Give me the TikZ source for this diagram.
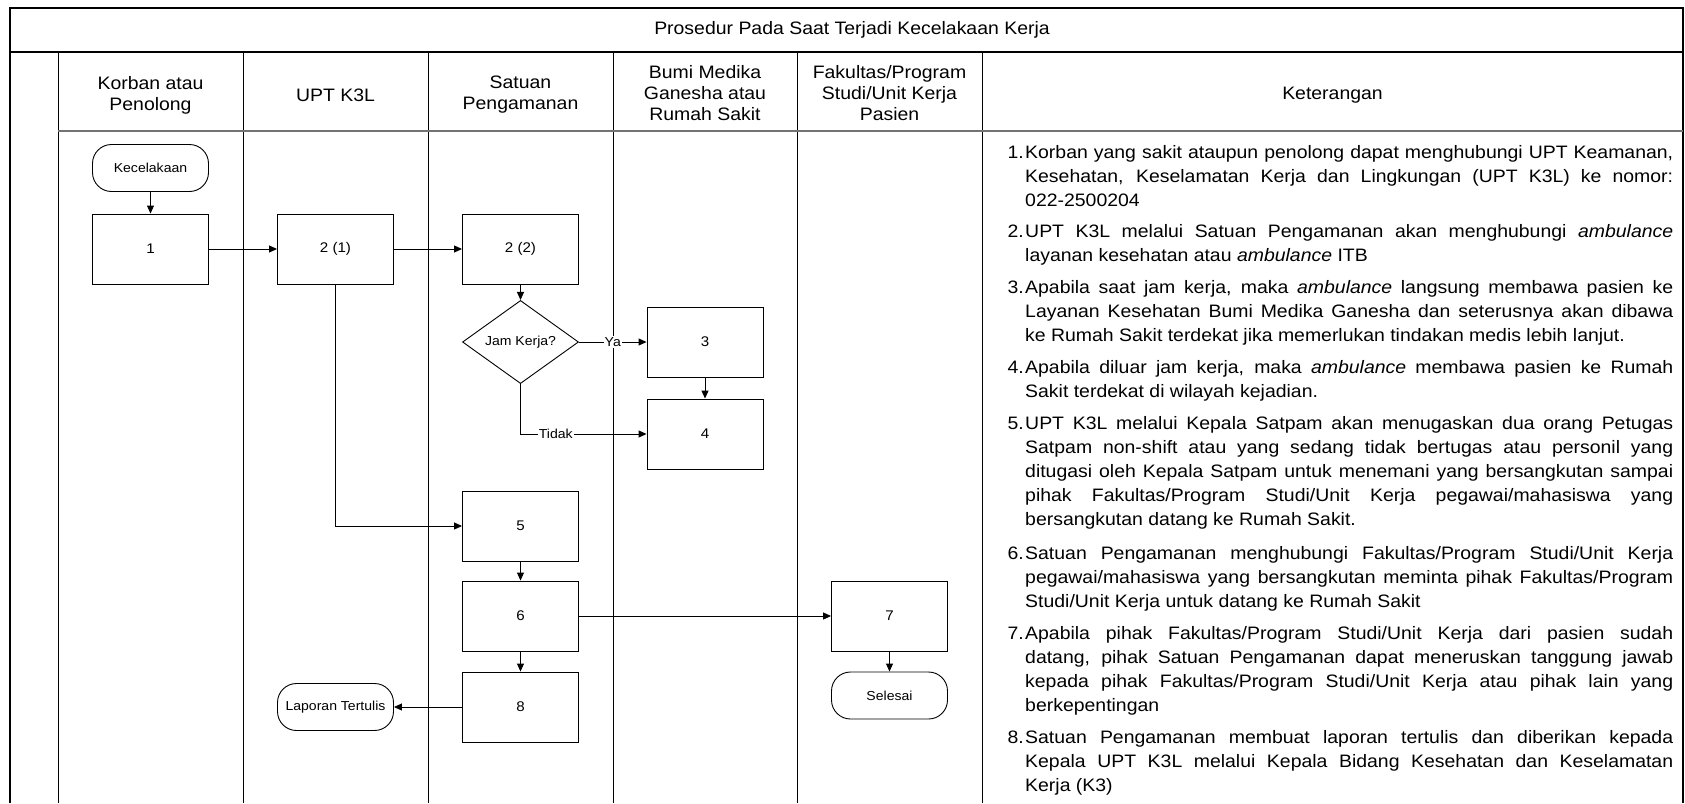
\documentclass[tikz,border=0pt]{standalone}
\usepackage{fontspec}
\setmainfont{Liberation Sans}[FakeStretch=1.08]
\usetikzlibrary{arrows.meta,shapes.geometric}
\newcommand\jl[1]{\hbox to 648pt{#1}}
\newcommand\lastl[1]{\hbox{#1}}
\newcommand\ketitem[3]{%
  \node[ket, anchor=base east] (n#1) at (1024,#2) {#1.};
  \node[ket, anchor=base west] (k#1) at (1025,#2)
    {\parbox[t]{648pt}{\lineskiplimit=-100pt\relax #3}};
}
\hbadness=10000 \hfuzz=20pt
\begin{document}
\begin{tikzpicture}[x=1pt,y=-1pt,
  frame/.style={line width=1.3pt},
  laneline/.style={line width=1pt},
  hdrline/.style={line width=2pt, draw=black!55},
  hd/.style={font=\fontsize{18}{21}\selectfont, align=center, inner sep=0pt},
  ket/.style={font=\fontsize{18}{24}\selectfont, inner sep=0pt},
  box/.style={draw, line width=0.9pt, minimum width=116pt, minimum height=70pt, inner sep=0pt, font=\fontsize{14}{16}\selectfont},
  term/.style={draw, line width=0.9pt, rounded corners=19pt, minimum width=116pt, minimum height=47pt, inner sep=0pt, font=\fontsize{13}{15}\selectfont},
  dec/.style={draw, line width=0.9pt, diamond, minimum width=116pt, minimum height=76pt, inner sep=0pt, font=\fontsize{13}{15}\selectfont},
  arr/.style={-{Triangle[length=8pt,width=7pt]}, line width=0.9pt},
  lbl/.style={font=\fontsize{13}{15}\selectfont, fill=white, inner sep=1pt}
]
\useasboundingbox (0,0) rectangle (1685,803);
% table frame
\draw[frame] (10,803) -- (10,8) -- (1683,8) -- (1683,803);
\draw[frame] (10,52) -- (1683,52);
\foreach \x in {58,243,428,613,797,982} \draw[laneline] (\x,52) -- (\x,803);
\draw[hdrline] (58,131) -- (1683,131);
% headings
\node[hd] (title) at (852,30) {Prosedur Pada Saat Terjadi Kecelakaan Kerja};
\node[hd] (h1) at (150.5,95) {Korban atau\\Penolong};
\node[hd] (h2) at (335.5,95) {UPT K3L};
\node[hd] (h3) at (520.5,95) {Satuan\\Pengamanan};
\node[hd] (h4) at (705,93) {Bumi Medika\\Ganesha atau\\Rumah Sakit};
\node[hd] (h5) at (889.5,93) {Fakultas/Program\\Studi/Unit Kerja\\Pasien};
\node[hd] (h6) at (1332.5,95) {Keterangan};
% flow nodes
\node[term] (kec) at (150.5,168) {Kecelakaan};
\node[box] (b1) at (150.5,249) {1};
\node[box] (b21) at (335.5,249) {2 (1)};
\node[box] (b22) at (520.5,249) {2 (2)};
\node[dec] (dec) at (520.5,342) {Jam Kerja?};
\node[box] (b3) at (705,342) {3};
\node[box] (b4) at (705,434) {4};
\node[box] (b5) at (520.5,526) {5};
\node[box] (b6) at (520.5,616) {6};
\node[box] (b7) at (889.5,616) {7};
\node[box] (b8) at (520.5,707) {8};
\node[term] (lap) at (335.5,707) {Laporan Tertulis};
\node[term] (sel) at (889.5,695.5) {Selesai};
% connectors
\draw[arr] (kec) -- (b1);
\draw[arr] (b1) -- (b21);
\draw[arr] (b21) -- (b22);
\draw[arr] (b22) -- (dec);
\draw[arr] (dec) -- node[lbl, pos=0.5] {Ya} (b3);
\draw[arr] (b3) -- (b4);
\draw[arr] (dec.south) |- node[lbl, pos=0.64] {Tidak} (b4.west);
\draw[arr] (b21.south) |- (b5.west);
\draw[arr] (b5) -- (b6);
\draw[arr] (b6) -- (b8);
\draw[arr] (b6) -- (b7);
\draw[arr] (b7) -- (sel);
\draw[arr] (b8) -- (lap);
% keterangan
\ketitem{1}{158}{%
  \jl{Korban yang sakit ataupun penolong dapat menghubungi UPT Keamanan,}
  \jl{Kesehatan, Keselamatan Kerja dan Lingkungan (UPT K3L) ke nomor:}
  \lastl{022-2500204}}
\ketitem{2}{237}{%
  \jl{UPT K3L melalui Satuan Pengamanan akan menghubungi \textit{ambulance}}
  \lastl{layanan kesehatan atau \textit{ambulance} ITB}}
\ketitem{3}{293}{%
  \jl{Apabila saat jam kerja, maka \textit{ambulance} langsung membawa pasien ke}
  \jl{Layanan Kesehatan Bumi Medika Ganesha dan seterusnya akan dibawa}
  \lastl{ke Rumah Sakit terdekat jika memerlukan tindakan medis lebih lanjut.}}
\ketitem{4}{373}{%
  \jl{Apabila diluar jam kerja, maka \textit{ambulance} membawa pasien ke Rumah}
  \lastl{Sakit terdekat di wilayah kejadian.}}
\ketitem{5}{429}{%
  \jl{UPT K3L melalui Kepala Satpam akan menugaskan dua orang Petugas}
  \jl{Satpam non-shift atau yang sedang tidak bertugas atau personil yang}
  \jl{ditugasi oleh Kepala Satpam untuk menemani yang bersangkutan sampai}
  \jl{pihak Fakultas/Program Studi/Unit Kerja pegawai/mahasiswa yang}
  \lastl{bersangkutan datang ke Rumah Sakit.}}
\ketitem{6}{559}{%
  \jl{Satuan Pengamanan menghubungi Fakultas/Program Studi/Unit Kerja}
  \jl{pegawai/mahasiswa yang bersangkutan meminta pihak Fakultas/Program}
  \lastl{Studi/Unit Kerja untuk datang ke Rumah Sakit}}
\ketitem{7}{639}{%
  \jl{Apabila pihak Fakultas/Program Studi/Unit Kerja dari pasien sudah}
  \jl{datang, pihak Satuan Pengamanan dapat meneruskan tanggung jawab}
  \jl{kepada pihak Fakultas/Program Studi/Unit Kerja atau pihak lain yang}
  \lastl{berkepentingan}}
\ketitem{8}{743}{%
  \jl{Satuan Pengamanan membuat laporan tertulis dan diberikan kepada}
  \jl{Kepala UPT K3L melalui Kepala Bidang Kesehatan dan Keselamatan}
  \lastl{Kerja (K3)}}
\end{tikzpicture}
\end{document}
